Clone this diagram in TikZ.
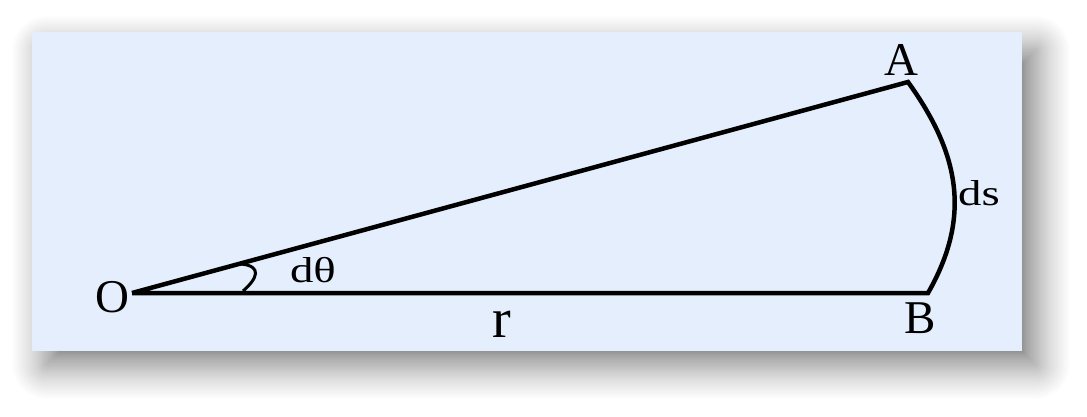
\documentclass[tikz,border=0pt]{standalone}
\usepackage{fontspec}
\setmainfont{Liberation Serif}
\usepackage{graphicx}
\definecolor{panelblue}{RGB}{228,238,253}
\tikzset{
  edge/.style={line width=4.5pt, line cap=butt, line join=miter},
  bigl/.style={inner sep=0pt, anchor=base, font=\fontsize{47}{50}\selectfont},
  smalll/.style={inner sep=0pt, anchor=base, font=\fontsize{36}{40}\selectfont},
}
\begin{document}
\begin{tikzpicture}[x=1pt,y=-1pt]
\useasboundingbox (0,0) rectangle (1087,416);
\fill[white] (0,0) rectangle (1087,416);
% blurred drop shadow
\foreach \k in {0,...,59}{
  \pgfmathsetmacro\e{-20+56*(\k/60)^3}
  \pgfmathsetmacro\xa{46-\e}
  \pgfmathsetmacro\ya{50-\e}
  \pgfmathsetmacro\xb{1036+\e}
  \pgfmathsetmacro\yb{365+\e}
  \pgfmathsetmacro\rc{max(\e,0)+0.5}
  \fill[black, fill opacity=0.016, rounded corners=\rc pt] (\xa,\ya) rectangle (\xb,\yb);
}
% panel
\fill[panelblue] (32,32) rectangle (1022,351);
% points
\coordinate (O) at (132,293);
\coordinate (A) at (908,82);
\coordinate (B) at (928,293);
\coordinate (m1) at (241,264);
\coordinate (m2) at (243,291);
% sector
\draw[edge] (O) -- (A) .. controls (959,153) and (972,216) .. (B) -- (O);
% angle mark
\draw[line width=3pt] (m1) .. controls (262,266) and (258,278) .. (m2);
% labels
\node[bigl] (lO) at (112,312) {O};
\node[bigl] (lA) at (901,75) {A};
\node[bigl] (lB) at (920,333) {B};
\node[inner sep=0pt, anchor=base, font=\fontsize{56}{60}\selectfont] (lr) at (502,337) {r};
\node[smalll] (ldt) at (313,282) {\scalebox{1.3}[1]{dθ}};
\node[smalll] (lds) at (979,205) {\scalebox{1.3}[1]{ds}};
\end{tikzpicture}
\end{document}
